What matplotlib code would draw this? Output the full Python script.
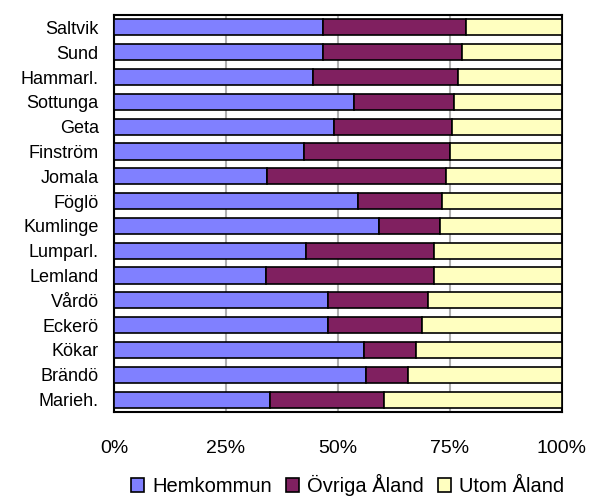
import numpy as np
import matplotlib
matplotlib.use("Agg")
import matplotlib.pyplot as plt

plt.rcParams['font.family'] = ['Liberation Sans', 'DejaVu Sans']

# kommuner, uppifrån och ned
kommuner = ['Saltvik', 'Sund', 'Hammarl.', 'Sottunga', 'Geta', 'Finström',
            'Jomala', 'Föglö', 'Kumlinge', 'Lumparl.', 'Lemland', 'Vårdö',
            'Eckerö', 'Kökar', 'Brändö', 'Marieh.']

# andelar i procent
hemkommun = [46.7, 46.7, 44.5, 53.6, 49.0, 42.3, 34.2, 54.4,
             59.2, 42.8, 33.9, 47.7, 47.7, 55.7, 56.3, 34.8]
ovriga_aland = [31.9, 31.0, 32.3, 22.3, 26.4, 32.7, 39.9, 18.8,
                13.6, 28.6, 37.5, 22.4, 21.1, 11.7, 9.3, 25.5]
utom_aland = [21.4, 22.3, 23.2, 24.1, 24.6, 25.0, 25.9, 26.8,
              27.2, 28.6, 28.6, 29.9, 31.2, 32.6, 34.4, 39.7]

series = ['Hemkommun', 'Övriga Åland', 'Utom Åland']
farger = ['#8080FF', '#802060', '#FFFFC0']
xticks = [0, 25, 50, 75, 100]
xticklabels = ['0%', '25%', '50%', '75%', '100%']

fig = plt.figure(figsize=(5.9, 4.98), dpi=100)
ax = fig.add_axes([114 / 590, 86 / 498, 448 / 590, 397 / 498])

y = np.arange(len(kommuner))
left = np.zeros(len(kommuner))
for vals, name, c in zip([hemkommun, ovriga_aland, utom_aland], series, farger):
    ax.barh(y, vals, left=left, height=0.65, color=c, edgecolor='black',
            linewidth=1.2, label=name, zorder=3)
    left += np.array(vals)

ax.set_ylim(len(kommuner) - 0.5, -0.5)
ax.set_xlim(0, 100)
ax.set_yticks(y)
ax.set_yticklabels(kommuner, size=13)
ax.set_xticks(xticks)
ax.set_xticklabels(xticklabels, size=14)
ax.tick_params(axis='y', length=0, pad=11)
ax.tick_params(axis='x', length=0, pad=20)
ax.grid(True, axis='x', color='#b0b0b0', linewidth=1.5, zorder=0)
for s in ax.spines.values():
    s.set_linewidth(1.5)
    s.set_color('black')

fig.legend(loc='lower center', bbox_to_anchor=(0.589, -0.012), ncol=3,
           frameon=False, fontsize=14.5, handlelength=0.65, handleheight=0.65,
           handletextpad=0.4, columnspacing=0.7, borderaxespad=0.0)

fig.savefig('out.png', dpi=100)
